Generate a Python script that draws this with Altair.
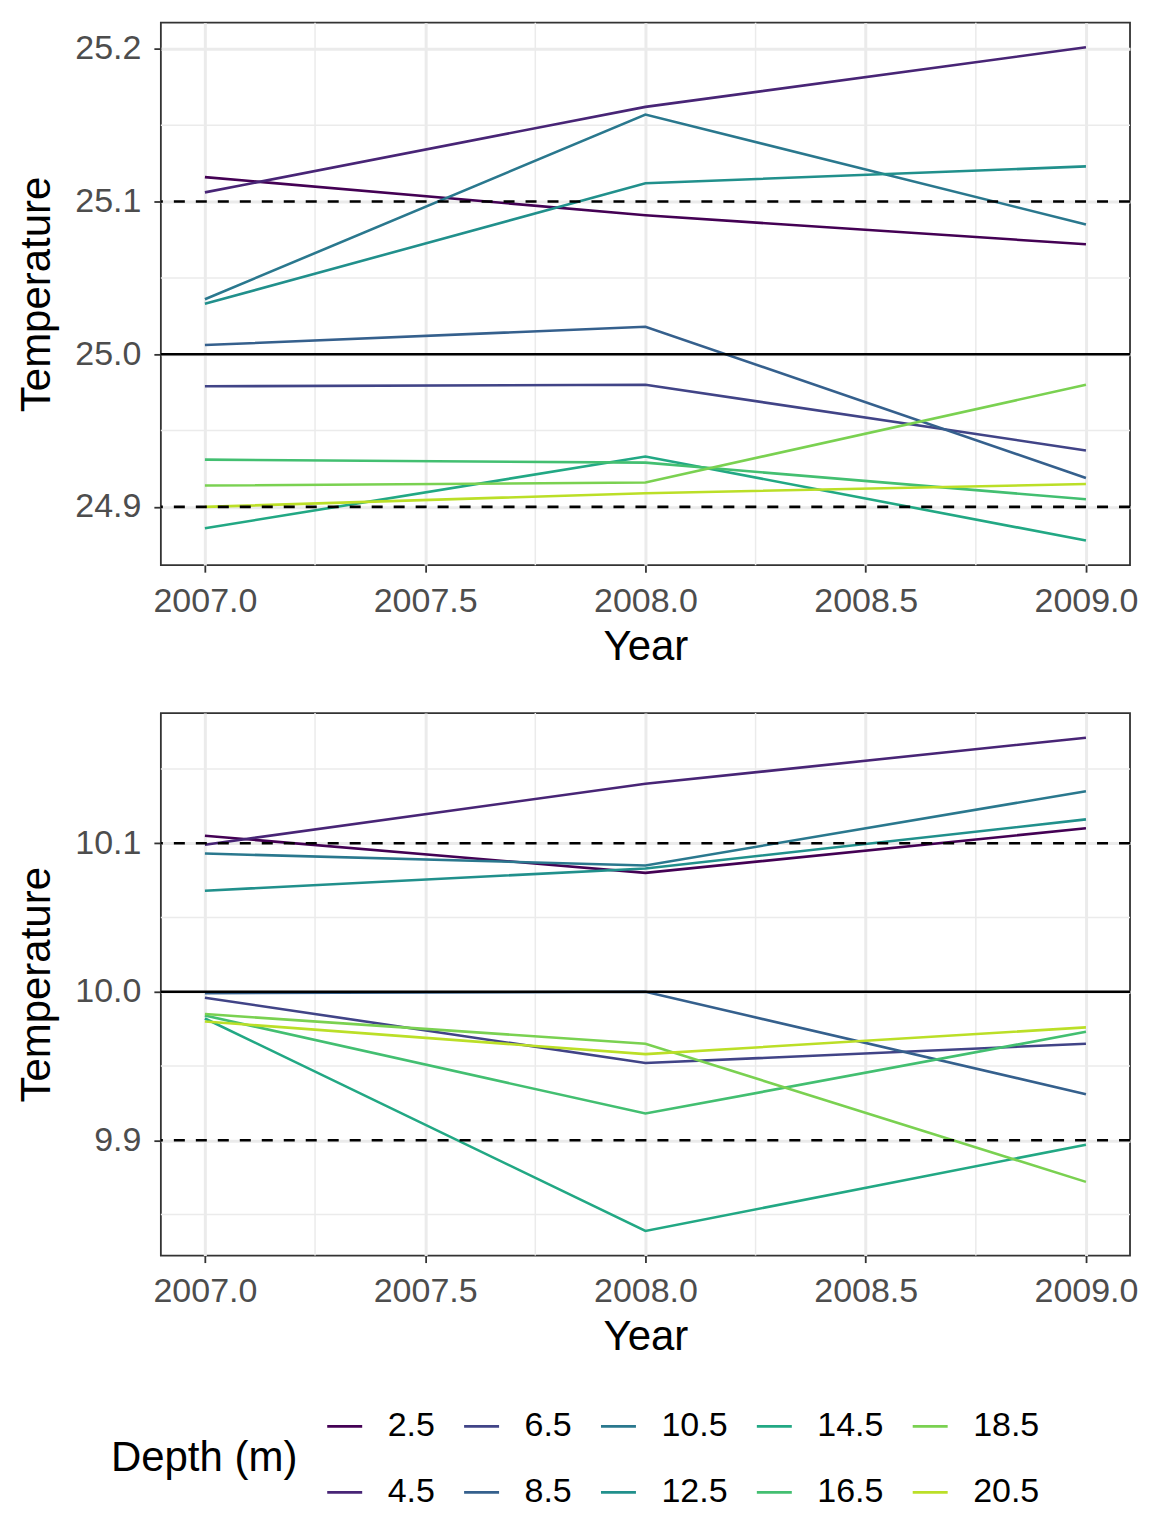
import altair as alt
import pandas as pd

# ---- data ----
depths = ["2.5", "4.5", "6.5", "8.5", "10.5", "12.5", "14.5", "16.5", "18.5", "20.5"]
years = [2007, 2008, 2009]

# top panel (values per depth, in the order of `depths`)
top_2007 = [25.116, 25.106, 24.979, 25.006, 25.036, 25.033, 24.886, 24.931, 24.914, 24.900]
top_2008 = [25.091, 25.162, 24.980, 25.018, 25.157, 25.112, 24.933, 24.929, 24.916, 24.909]
top_2009 = [25.072, 25.201, 24.937, 24.919, 25.085, 25.123, 24.878, 24.905, 24.980, 24.915]

# bottom panel
bot_2007 = [10.105, 10.099, 9.996, 9.999, 10.093, 10.068, 9.982, 9.984, 9.985, 9.980]
bot_2008 = [10.080, 10.140, 9.952, 10.000, 10.085, 10.083, 9.839, 9.918, 9.965, 9.958]
bot_2009 = [10.110, 10.171, 9.965, 9.931, 10.135, 10.116, 9.897, 9.973, 9.872, 9.976]

colors = ["#440154", "#482576", "#414487", "#35608D", "#2A788E",
          "#21908C", "#22A884", "#43BF71", "#7AD151", "#BBDF27"]

x_major = [2007.0, 2007.5, 2008.0, 2008.5, 2009.0]
x_minor = [2007.25, 2007.75, 2008.25, 2008.75]

top_major = [24.9, 25.0, 25.1, 25.2]
top_minor = [24.95, 25.05, 25.15]
top_center = [25.0]
top_dashed = [24.9, 25.1]

bot_major = [9.9, 10.0, 10.1]
bot_minor = [9.85, 9.95, 10.05, 10.15]
bot_center = [10.0]
bot_dashed = [9.9, 10.1]

# legend order (ggplot fills legend columns first)
legend_order = ["2.5", "6.5", "10.5", "14.5", "18.5", "4.5", "8.5", "12.5", "16.5", "20.5"]
legend_colors = [colors[depths.index(d)] for d in legend_order]


def long_df(v07, v08, v09):
    rows = []
    for i, d in enumerate(depths):
        for y, vals in zip(years, (v07, v08, v09)):
            rows.append({"Year": y, "Temperature": vals[i], "Depth": d})
    return pd.DataFrame(rows)


def panel(df, y_major, y_minor, center, dashed, show_legend):
    lo = df["Temperature"].min()
    hi = df["Temperature"].max()
    pad = (hi - lo) * 0.05
    xs = alt.Scale(domain=[2006.9, 2009.1], nice=False, zero=False)
    ys = alt.Scale(domain=[lo - pad, hi + pad], nice=False, zero=False)

    minor_x = alt.Chart(pd.DataFrame({"Year": x_minor})).mark_rule(
        color="#EBEBEB", strokeWidth=1.5).encode(x=alt.X("Year:Q", scale=xs))
    minor_y = alt.Chart(pd.DataFrame({"Temperature": y_minor})).mark_rule(
        color="#EBEBEB", strokeWidth=1.5).encode(y=alt.Y("Temperature:Q", scale=ys))

    if show_legend:
        legend = alt.Legend(
            title="Depth (m)", orient="none", legendX=-50, legendY=1386,
            columns=5, direction="horizontal", titleOrient="left",
            titleAnchor="middle", titleBaseline="middle", titleLimit=400,
            symbolType="stroke", symbolSize=1225, symbolStrokeWidth=2.6,
            labelFontSize=34, titleFontSize=42, titleFontWeight="normal",
            labelColor="black", titleColor="black",
            columnPadding=23, rowPadding=30, labelOffset=24, titlePadding=28,
            labelFont="Liberation Sans", titleFont="Liberation Sans")
    else:
        legend = None

    lines = alt.Chart(df).mark_line(strokeWidth=2.6, clip=True).encode(
        x=alt.X("Year:Q", scale=xs,
                axis=alt.Axis(values=x_major, format=".1f", title="Year")),
        y=alt.Y("Temperature:Q", scale=ys,
                axis=alt.Axis(values=y_major, format=".1f", title="Temperature")),
        color=alt.Color("Depth:N",
                        scale=alt.Scale(domain=legend_order, range=legend_colors),
                        legend=legend),
        detail="Depth:N",
    )

    dashed_r = alt.Chart(pd.DataFrame({"Temperature": dashed})).mark_rule(
        color="black", strokeWidth=2.6, strokeDash=[11, 11]).encode(
        y=alt.Y("Temperature:Q", scale=ys))
    center_r = alt.Chart(pd.DataFrame({"Temperature": center})).mark_rule(
        color="black", strokeWidth=2.6).encode(
        y=alt.Y("Temperature:Q", scale=ys))

    return alt.layer(minor_x, minor_y, lines, dashed_r, center_r).properties(
        width=970, height=543)


top = panel(long_df(top_2007, top_2008, top_2009), top_major, top_minor,
            top_center, top_dashed, True)
bottom = panel(long_df(bot_2007, bot_2008, bot_2009), bot_major, bot_minor,
               bot_center, bot_dashed, False)

chart = alt.vconcat(top, bottom, spacing=43).properties(
    padding={"left": 6, "top": 12, "right": 5, "bottom": 5}
).configure_view(
    stroke="#333333", strokeWidth=1.8
).configure_axis(
    domain=False,
    grid=True, gridColor="#EBEBEB", gridWidth=3,
    ticks=True, tickColor="#333333", tickWidth=1.8, tickSize=7,
    labelFont="Liberation Sans", labelFontSize=34, labelColor="#4D4D4D",
    titleFont="Liberation Sans", titleFontSize=42, titleFontWeight="normal",
    titleColor="black",
).configure_axisX(
    labelPadding=12, titlePadding=8
).configure_axisY(
    labelPadding=13, titlePadding=16
).configure_legend(
    labelFont="Liberation Sans", titleFont="Liberation Sans"
)

chart.save("out.html", embed_options={"renderer": "svg", "actions": False})
